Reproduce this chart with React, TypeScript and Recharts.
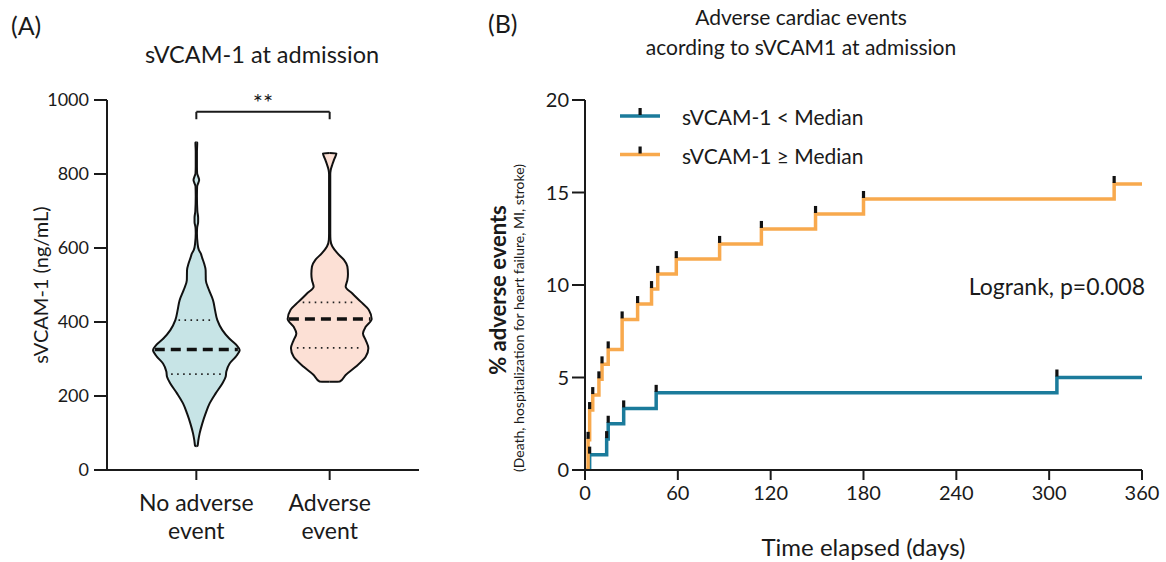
import React from 'react';
import { ComposedChart, LineChart, Line, Area, XAxis, YAxis, ReferenceLine } from 'recharts';

const FONT = 'Lato, "Open Sans", sans-serif';
const INK = '#1a1a1a';
const BLUE = '#1b7b9b';
const ORANGE = '#f8a94d';
const BLUE_FILL = '#c7e4e6';
const ORANGE_FILL = '#fce0d5';

// ---------- Panel A : violin data ----------
const categories = ['No adverse\nevent', 'Adverse\nevent'];
const categoryPositions = [0, 1];
const densityToHalfWidth = 1 / 133.3;

const noEventValues = [885, 860, 820, 802, 792, 784, 776, 766, 740, 700, 682, 670, 655, 640, 613, 595, 586, 572, 559, 540, 513, 486, 459, 432, 405, 378, 356, 338, 324, 306, 288, 266, 252, 234, 207, 180, 153, 126, 99, 80, 65];
const noEventDensity = [0.9, 0.6, 0.6, 0.8, 2, 2.8, 2, 0.8, 0.6, 1, 1.8, 1.8, 0.8, 0.6, 1.2, 2.5, 4.3, 6, 7.7, 9.3, 9.5, 12.7, 16.7, 18.7, 21, 26, 32.7, 40, 43.3, 39.3, 33.3, 30, 29.3, 26, 19.3, 13.3, 9.3, 6, 3.3, 2, 1.2];

const eventValues = [856, 840, 825, 810, 800, 750, 700, 640, 622, 604, 586, 568, 550, 530, 513, 495, 477, 455, 432, 408, 387, 369, 351, 329, 306, 279, 257, 239];
const eventDensity = [6.7, 4.6, 2.6, 1.0, 0.6, 0.6, 0.6, 0.6, 0.8, 2.7, 7.7, 14.3, 17.7, 18.3, 17.7, 16, 22.7, 31, 39.3, 42, 36, 33.3, 36, 38.7, 36, 26, 16, 10];

const medians = [326, 408];
const lowerQuartiles = [259, 330];
const upperQuartiles = [405, 453];
const significance = '**';

function buildViolinRows(values: number[], density: number[], center: number, key: string, other: string) {
  const rows: any[] = [];
  const n = values.length;
  rows.push({ v: values[0] + 0.6, [key]: [center, center], [other]: [null, null] });
  values.forEach((v, i) => {
    const w = density[i] * densityToHalfWidth;
    rows.push({ v, [key]: [center - w, center + w], [other]: [null, null] });
  });
  rows.push({ v: values[n - 1] - 0.6, [key]: [center, center], [other]: [null, null] });
  return rows;
}

const violinData = [
  ...buildViolinRows(noEventValues, noEventDensity, categoryPositions[0], 'noEvent', 'event'),
  ...buildViolinRows(eventValues, eventDensity, categoryPositions[1], 'event', 'noEvent'),
];

function halfWidthAt(values: number[], density: number[], v: number) {
  for (let i = 0; i < values.length - 1; i++) {
    const a = values[i], b = values[i + 1];
    if ((v <= a && v >= b)) {
      const t = (a - v) / (a - b);
      return (density[i] + t * (density[i + 1] - density[i])) * densityToHalfWidth;
    }
  }
  return 0;
}

const violinSets = [
  { values: noEventValues, density: noEventDensity },
  { values: eventValues, density: eventDensity },
];

// ---------- Panel B : cumulative incidence of adverse events ----------
const lowDays = [0, 3, 14, 15, 25, 46, 305, 360];
const lowPct = [0, 0.83, 1.67, 2.5, 3.33, 4.17, 5.0, 5.0];
const highDays = [0, 2, 3, 5, 9, 11, 15, 24, 34, 43, 47, 59, 87, 114, 149, 180, 342, 360];
const highPct = [0, 1.63, 3.24, 4.05, 4.9, 5.71, 6.52, 8.14, 8.97, 9.78, 10.6, 11.4, 12.22, 13.03, 13.84, 14.65, 15.46, 15.46];
const dayTicks = [0, 60, 120, 180, 240, 300, 360];
const pctTicks = [0, 5, 10, 15, 20];
const sTicks = [0, 200, 400, 600, 800, 1000];
const seriesNames = ['sVCAM-1 < Median', 'sVCAM-1 \u2265 Median'];
const logrankText = 'Logrank, p=0.008';

const lowData = lowDays.map((d, i) => ({ day: d, pct: lowPct[i] }));
const highData = highDays.map((d, i) => ({ day: d, pct: highPct[i] }));

const censorTick = (props: any) => {
  const { cx, cy, payload, index } = props;
  if (payload.day === 0 || payload.day === 360 || cx == null) return <g key={`t${index}`} />;
  return <rect key={`t${index}`} x={cx - 1.6} y={cy - 8} width={3.2} height={7} fill="#111" />;
};

const CategoryTick = (props: any) => {
  const { x, y, payload } = props;
  const idx = categoryPositions.indexOf(payload.value);
  const lines = idx >= 0 ? categories[idx].split('\n') : [];
  return (
    <text x={x} y={y} textAnchor="middle" fontFamily={FONT} fontSize={23} fill={INK}>
      {lines.map((l, i) => (
        <tspan key={i} x={x} dy={i === 0 ? 29 : 28}>{l}</tspan>
      ))}
    </text>
  );
};

const tickStyleA = { fontFamily: FONT, fontSize: 18, fill: INK };
const tickStyleB = { fontFamily: FONT, fontSize: 20, fill: INK };

export default function App() {
  return (
    <div style={{ position: 'absolute', left: 0, top: 0, width: 1166, height: 562, background: '#fff', fontFamily: FONT }}>
      {/* Panel A */}
      <div style={{ position: 'absolute', left: 0, top: 0 }}>
        <ComposedChart width={440} height={562} data={violinData} layout="vertical"
          margin={{ top: 100, right: 21, bottom: 32, left: 47 }}>
          <XAxis type="number" domain={[-0.67, 1.67]} ticks={categoryPositions} allowDataOverflow
            height={60} tick={<CategoryTick />} tickSize={10}
            axisLine={{ stroke: INK, strokeWidth: 2 }} tickLine={{ stroke: INK, strokeWidth: 2 }} />
          <YAxis type="number" dataKey="v" domain={[0, 1000]} ticks={sTicks} allowDataOverflow width={60} reversed
            tick={tickStyleA} tickSize={13} tickMargin={5}
            axisLine={{ stroke: INK, strokeWidth: 2 }} tickLine={{ stroke: INK, strokeWidth: 2 }}
            label={{
              content: (p: any) => {
                const vb = p.viewBox || { x: 47, y: 100, width: 60, height: 370 };
                const cx = vb.x - 7;
                const cy = vb.y + vb.height / 2;
                return (
                  <text x={cx} y={cy} transform={`rotate(-90 ${cx} ${cy})`} textAnchor="middle"
                    dominantBaseline="central" fontFamily={FONT} fontSize={20} fill={INK}>sVCAM-1 (ng/mL)</text>
                );
              },
            }} />
          <Area dataKey="noEvent" type="monotone" connectNulls fill={BLUE_FILL} fillOpacity={1}
            stroke="#111" strokeWidth={2} isAnimationActive={false} dot={false} activeDot={false} />
          <Area dataKey="event" type="monotone" connectNulls fill={ORANGE_FILL} fillOpacity={1}
            stroke="#111" strokeWidth={2} isAnimationActive={false} dot={false} activeDot={false} />
          {categoryPositions.map((c, i) => {
            const vs = violinSets[i];
            const wm = halfWidthAt(vs.values, vs.density, medians[i]) * 0.97;
            const wl = halfWidthAt(vs.values, vs.density, lowerQuartiles[i]) * 0.85;
            const wu = halfWidthAt(vs.values, vs.density, upperQuartiles[i]) * 0.85;
            return (
              <React.Fragment key={`q${i}`}>
                <ReferenceLine segment={[{ x: c - wu, y: upperQuartiles[i] }, { x: c + wu, y: upperQuartiles[i] }]}
                  stroke="#222" strokeWidth={1.6} strokeDasharray="1.6 4.4" />
                <ReferenceLine segment={[{ x: c - wl, y: lowerQuartiles[i] }, { x: c + wl, y: lowerQuartiles[i] }]}
                  stroke="#222" strokeWidth={1.6} strokeDasharray="1.6 4.4" />
                <ReferenceLine segment={[{ x: c - wm, y: medians[i] }, { x: c + wm, y: medians[i] }]}
                  stroke="#111" strokeWidth={3.5} strokeDasharray="10 6" />
              </React.Fragment>
            );
          })}
          <ReferenceLine segment={[{ x: 0, y: 948 }, { x: 0, y: 968 }]} stroke={INK} strokeWidth={2} />
          <ReferenceLine segment={[{ x: 1, y: 948 }, { x: 1, y: 968 }]} stroke={INK} strokeWidth={2} />
          <ReferenceLine segment={[{ x: 0, y: 968 }, { x: 1, y: 968 }]} stroke={INK} strokeWidth={2}
            label={{
              content: (p: any) => {
                const vb = p.viewBox || { x: 196, y: 112, width: 133, height: 0 };
                return (
                  <text x={vb.x + vb.width / 2} y={vb.y - 1} textAnchor="middle" fontFamily={FONT}
                    fontSize={24} fill={INK}>{significance}</text>
                );
              },
            }} />
        </ComposedChart>
      </div>

      {/* Panel B */}
      <div style={{ position: 'absolute', left: 440, top: 0 }}>
        <LineChart width={726} height={562} margin={{ top: 100, right: 24, bottom: 32, left: 65 }}>
          <XAxis type="number" dataKey="day" domain={[0, 360]} ticks={dayTicks} allowDataOverflow height={60}
            tick={tickStyleB} tickSize={10} tickMargin={6}
            axisLine={{ stroke: INK, strokeWidth: 2 }} tickLine={{ stroke: INK, strokeWidth: 2 }}
            label={{
              content: (p: any) => {
                const vb = p.viewBox || { x: 145, y: 470, width: 557, height: 60 };
                return (
                  <text x={vb.x + vb.width / 2} y={vb.y + 86} textAnchor="middle" fontFamily={FONT}
                    fontSize={24} fill={INK}>Time elapsed (days)</text>
                );
              },
            }} />
          <YAxis type="number" domain={[0, 20]} ticks={pctTicks} allowDataOverflow width={80}
            tick={tickStyleB} tickSize={13} tickMargin={3}
            axisLine={{ stroke: INK, strokeWidth: 2 }} tickLine={{ stroke: INK, strokeWidth: 2 }}
            label={{
              content: (p: any) => {
                const vb = p.viewBox || { x: 65, y: 100, width: 80, height: 370 };
                const x1 = vb.x - 8;
                const y1 = vb.y + 190;
                const x2 = vb.x + 13;
                const y2 = vb.y + 218;
                return (
                  <g>
                    <text x={x1} y={y1} transform={`rotate(-90 ${x1} ${y1})`} textAnchor="middle"
                      dominantBaseline="central" fontFamily={FONT} fontSize={22} fontWeight={700} fill={INK}>% adverse events</text>
                    <text x={x2} y={y2} transform={`rotate(-90 ${x2} ${y2})`} textAnchor="middle"
                      dominantBaseline="central" fontFamily={FONT} fontSize={14} fill={INK}>(Death, hospitalization for heart failure, MI, stroke)</text>
                  </g>
                );
              },
            }} />
          <Line data={lowData} dataKey="pct" type="stepAfter" stroke={BLUE} strokeWidth={3.5}
            dot={censorTick} activeDot={false} isAnimationActive={false} />
          <Line data={highData} dataKey="pct" type="stepAfter" stroke={ORANGE} strokeWidth={3.5}
            dot={censorTick} activeDot={false} isAnimationActive={false} />
        </LineChart>
      </div>

      {/* Overlay: panel letters, titles, legend, annotation */}
      <svg width={1166} height={562} style={{ position: 'absolute', left: 0, top: 0, pointerEvents: 'none' }}
        fontFamily={FONT} fill={INK}>
        <text x={11} y={35} fontSize={25}>(A)</text>
        <text x={488} y={33} fontSize={25}>(B)</text>
        <text x={262} y={63} fontSize={23.5} textAnchor="middle">sVCAM-1 at admission</text>
        <text x={801} y={25} fontSize={21} textAnchor="middle">Adverse cardiac events</text>
        <text x={801} y={55} fontSize={21} textAnchor="middle">acording to sVCAM1 at admission</text>
        <text x={1145} y={295} fontSize={23} textAnchor="end">{logrankText}</text>
        {[BLUE, ORANGE].map((col, i) => {
          const y = 116 + i * 38.5;
          return (
            <g key={`lg${i}`}>
              <line x1={620} x2={660} y1={y} y2={y} stroke={col} strokeWidth={3.5} />
              <rect x={638.5} y={y - 8} width={3.2} height={7} fill="#111" />
              <text x={682} y={y + 9} fontSize={21}>{seriesNames[i]}</text>
            </g>
          );
        })}
      </svg>
    </div>
  );
}
